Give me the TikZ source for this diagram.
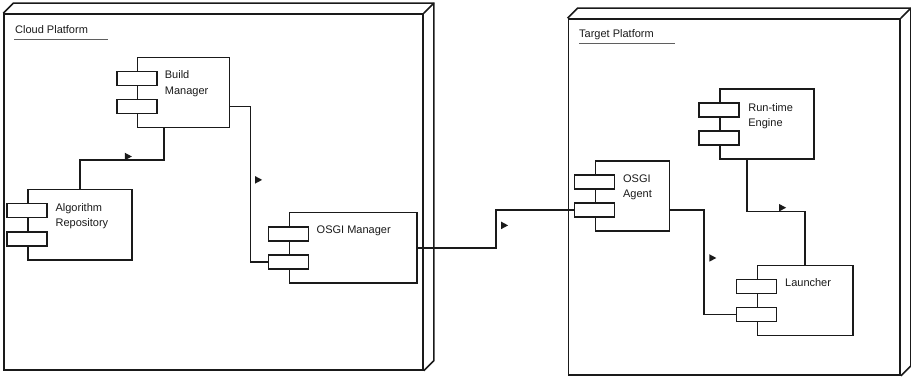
\documentclass[tikz,border=0pt]{standalone}
\usepackage{fontspec}
\setmainfont{Liberation Sans}
\usepackage{xcolor}
\usetikzlibrary{shapes.geometric, positioning, calc}
\definecolor{ink}{HTML}{1a1a1a}
\tikzset{
  platform/.style = {rectangle, draw=ink, line width=1.6pt, inner sep=0pt},
  platformEdge/.style = {draw=ink, line width=1.6pt, line join=miter},
  platformTitle/.style = {inner sep=0pt, anchor=base west,
    font=\fontsize{11}{13}\selectfont, text=ink},
  titleLine/.style = {draw=ink!70, line width=1pt},
  component/.style = {rectangle, draw=ink, line width=1.6pt, fill=white,
    minimum height=70pt, inner sep=0pt},
  port/.style = {rectangle, draw=ink, line width=1.6pt, fill=white,
    minimum width=40pt, minimum height=14pt, inner sep=0pt},
  compText/.style = {inner sep=0pt, anchor=north west, align=left,
    font=\fontsize{11}{15.5}\selectfont, text=ink},
  link/.style = {draw=ink, line width=1.6pt},
  flowTip/.style = {isosceles triangle, isosceles triangle stretches,
    fill=ink, inner sep=0pt, minimum width=7.5pt, minimum height=7pt,
    anchor=west},
}

\begin{document}
\begin{tikzpicture}[x=1pt, y=-1pt]
\useasboundingbox (0,0) rectangle (911,377);

% platforms
\node[platform, minimum width=419pt, minimum height=356pt] (cloud) at (213.5,192) {};
\draw[platformEdge] (cloud.north west) -- ++(10pt,10pt) -- ([shift={(10pt,10pt)}]cloud.north east)
  -- ([shift={(10pt,10pt)}]cloud.south east) -- (cloud.south east);
\draw[platformEdge] (cloud.north east) -- ++(10pt,10pt);
\node[platformTitle] (cloud-t) at (15,33.3) {Cloud Platform};
\draw[titleLine] ([xshift=-1pt,yshift=-6.4pt]cloud-t.base west) -- ++(94pt,0);

\node[platform, minimum width=331.7pt, minimum height=356pt] (target) at (734.2,197) {};
\draw[platformEdge] (target.north west) -- ++(10pt,10pt) -- ([shift={(10pt,10pt)}]target.north east)
  -- ([shift={(10pt,10pt)}]target.south east) -- (target.south east);
\draw[platformEdge] (target.north east) -- ++(10pt,10pt);
\node[platformTitle] (target-t) at (579,37.3) {Target Platform};
\draw[titleLine] ([yshift=-6pt]target-t.base west) -- ++(96.3pt,0);

% components
\node[component, minimum width=92pt] (bm) at (183.5,92.5) {};
\node[port, below=14pt of bm.north west] (bm-p1) {};
\node[port, above=14pt of bm.south west] (bm-p2) {};
\node[compText] (bm-t) at ([shift={(28pt,-14pt)}]bm.north west) {Build\\Manager};

\node[component, minimum width=104pt] (ar) at (79.7,224.7) {};
\node[port, below=14pt of ar.north west] (ar-p1) {};
\node[port, above=14pt of ar.south west] (ar-p2) {};
\node[compText] (ar-t) at ([shift={(28.5pt,-14pt)}]ar.north west) {Algorithm\\Repository};

\node[component, minimum width=127.4pt] (om) at (353,247.7) {};
\node[port, below=14pt of om.north west] (om-p1) {};
\node[port, above=14pt of om.south west] (om-p2) {};
\node[compText] (om-t) at ([shift={(28pt,-14pt)}]om.north west) {OSGI Manager};

\node[component, minimum width=94pt] (re) at (767,124.3) {};
\node[port, below=14pt of re.north west] (re-p1) {};
\node[port, above=14pt of re.south west] (re-p2) {};
\node[compText] (re-t) at ([shift={(29pt,-14.4pt)}]re.north west) {Run-time\\Engine};

\node[component, minimum width=74pt] (oa) at (632.3,196) {};
\node[port, below=14pt of oa.north west] (oa-p1) {};
\node[port, above=14pt of oa.south west] (oa-p2) {};
\node[compText] (oa-t) at ([shift={(28.4pt,-14pt)}]oa.north west) {OSGI\\Agent};

\node[component, minimum width=95.7pt] (la) at (805.2,300.3) {};
\node[port, below=14pt of la.north west] (la-p1) {};
\node[port, above=14pt of la.south west] (la-p2) {};
\node[compText] (la-t) at ([shift={(28.4pt,-14pt)}]la.north west) {Launcher};

% connectors
\draw[link] (ar.north) |- node[flowTip, pos=0.763, yshift=3.8pt] (m1) {}
  ([shift={(-19.5pt,-32pt)}]bm.south) -- ([xshift=-19.5pt]bm.south);
\draw[link] ([yshift=-14.2pt]bm.east) -- ++(20pt,0)
  |- node[flowTip, pos=0.236, xshift=4pt] (m2) {} (om-p2.west);
\draw[link] (om.east) -- ++(78.3pt,0)
  |- node[flowTip, pos=0.296, xshift=4.5pt] (m3) {} (oa-p2.west);
\draw[link] ([yshift=-14pt]oa.east) -- ++(34pt,0)
  |- node[flowTip, pos=0.23, xshift=4.4pt] (m4) {} (la-p2.west);
\draw[link] ([xshift=-20.3pt]re.south) |- node[flowTip, pos=0.77, yshift=3.8pt] (m5) {}
  ([yshift=53pt]la.north) -- (la.north);

\end{tikzpicture}
\end{document}
